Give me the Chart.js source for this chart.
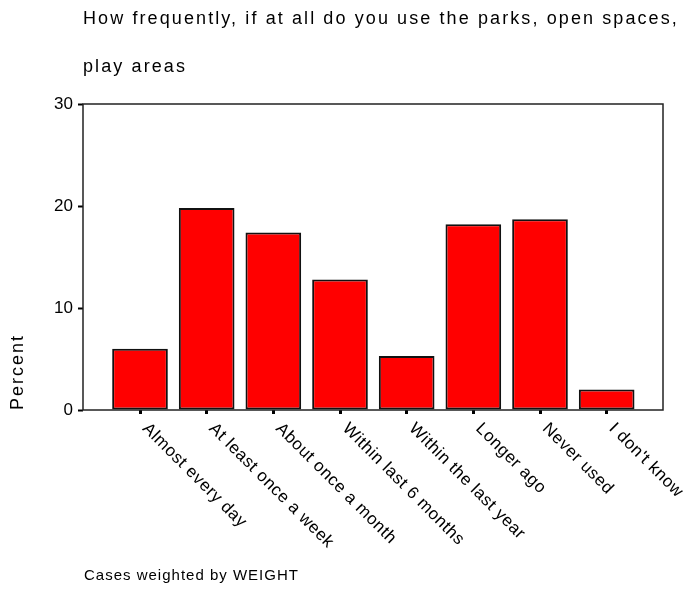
<!DOCTYPE html>
<html>
<head>
<meta charset="utf-8">
<script src="https://cdn.jsdelivr.net/npm/chart.js@4"></script>
<style>
  html, body { margin: 0; padding: 0; background: #fff; }
  #wrap { width: 684px; height: 592px; }
</style>
</head>
<body>
<div id="wrap"><canvas id="myChart" width="684" height="592"></canvas></div>
<script>
// data
const categories = ['Almost every day', 'At least once a week', 'About once a month',
  'Within last 6 months', 'Within the last year', 'Longer ago', 'Never used', "I don't know"];
const percent = [6.0, 19.8, 17.4, 12.8, 5.3, 18.2, 18.7, 2.0];
const yTicks = [0, 10, 20, 30];
const titleLines = ['How frequently, if at all do you use the parks, open spaces,', 'play areas'];
const yTitle = 'Percent';
const footnote = 'Cases weighted by WEIGHT';

const FONT = 'Arial, "Liberation Sans", sans-serif';

// texts drawn by hand so the wide letter spacing of the original can be kept
const spssText = {
  id: 'spssText',
  afterDraw(chart) {
    const ctx = chart.ctx;
    const a = chart.chartArea;
    const x = chart.scales.x;
    ctx.save();
    ctx.fillStyle = '#000';
    ctx.textBaseline = 'middle';
    ctx.textAlign = 'left';

    // title
    ctx.font = '18px ' + FONT;
    ctx.letterSpacing = '2.1px';
    ctx.fillText(titleLines[0], a.left, 19);
    ctx.fillText(titleLines[1], a.left, 67);

    // y title
    ctx.save();
    ctx.letterSpacing = '2px';
    ctx.translate(18, a.bottom);
    ctx.rotate(-Math.PI / 2);
    ctx.fillText(yTitle, 0, 0);
    ctx.restore();

    // category labels, turned down to the right
    ctx.font = '17px ' + FONT;
    ctx.letterSpacing = '0.6px';
    categories.forEach(function (c, i) {
      const px = x.getPixelForValue(i);
      ctx.save();
      ctx.translate(px + 5, a.bottom + 16);
      ctx.rotate(Math.PI / 4);
      ctx.fillText(c, 0, 0);
      ctx.restore();
    });

    // footnote
    ctx.font = '15px ' + FONT;
    ctx.letterSpacing = '1px';
    ctx.fillText(footnote, 84, 576);

    // frame
    ctx.letterSpacing = '0px';
    ctx.strokeStyle = '#222';
    ctx.lineWidth = 1.5;
    ctx.strokeRect(a.left, a.top, a.right - a.left, a.bottom - a.top);
    ctx.restore();
  }
};

const ctx = document.getElementById('myChart').getContext('2d');
const myChart = new Chart(ctx, {
  type: 'bar',
  data: {
    labels: categories,
    datasets: [{
      label: yTitle,
      data: percent.map((v, i) => ({ x: i, y: v })),
      backgroundColor: '#ff0000',
      borderColor: '#111',
      borderWidth: 2,
      borderSkipped: false,
      categoryPercentage: 1,
      barPercentage: 0.835
    }]
  },
  options: {
    responsive: false,
    animation: false,
    layout: { padding: { left: 0, right: 21, top: 104, bottom: 0 } },
    plugins: {
      legend: { display: false },
      tooltip: { enabled: false }
    },
    scales: {
      x: {
        type: 'linear',
        offset: false,
        min: -0.855,
        max: 7.845,
        afterBuildTicks: s => { s.ticks = categories.map((c, i) => ({ value: i })); },
        afterFit: s => { s.height = 182; },
        ticks: { display: false },
        grid: { offset: false, drawOnChartArea: false, drawTicks: true, tickLength: 4, tickWidth: 3, color: '#000' },
        border: { display: false }
      },
      y: {
        min: 0,
        max: 30,
        afterBuildTicks: s => { s.ticks = yTicks.map(v => ({ value: v })); },
        afterFit: s => { s.width = 83; },
        ticks: { color: '#000', padding: 5, font: { family: FONT, size: 17 } },
        grid: { drawOnChartArea: false, drawTicks: true, tickLength: 5, tickWidth: 2, color: '#000' },
        border: { display: false }
      }
    }
  },
  plugins: [spssText]
});
</script>
</body>
</html>
